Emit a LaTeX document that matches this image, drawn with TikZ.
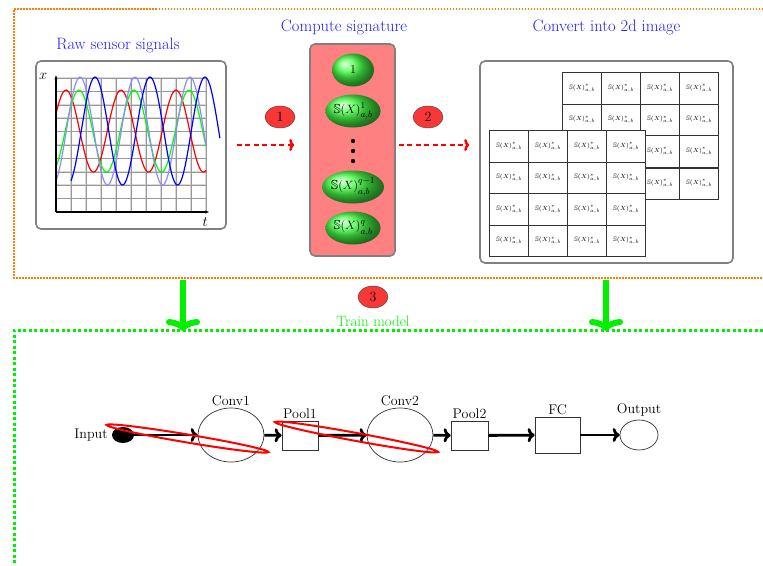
\documentclass[tikz,border=0pt]{standalone}
\usepackage{amsmath}
\usepackage{amssymb}
\usepackage{fontspec}
\usetikzlibrary{matrix,positioning,shapes.geometric,arrows.meta}
\definecolor{myorange}{RGB}{255,128,0}
\definecolor{mygreen}{RGB}{0,240,0}
\definecolor{myball}{RGB}{70,255,70}
\definecolor{mysalmon}{RGB}{255,128,128}
\definecolor{mybadge}{RGB}{250,55,55}
\definecolor{mytitle}{RGB}{30,30,255}
\newcommand{\sx}{$\mathbb{S}(X)^{*}_{a,b}$}

\begin{document}
\begin{tikzpicture}[x=1pt,y=-1pt,
  title/.style={text=mytitle,font=\fontsize{16.5}{19}\selectfont},
  panel/.style={draw=gray,line width=1.6pt,rounded corners=5pt},
  sball/.style={ellipse,minimum width=42pt,minimum height=33pt,inner sep=0pt,
    ball color=myball,font=\fontsize{13}{15}\selectfont},
  badge/.style={ellipse,draw=black!75,fill=mybadge,minimum width=30pt,
    minimum height=22pt,inner sep=0pt,font=\fontsize{14}{16}\selectfont},
  dasharrow/.style={red,line width=2.5pt,dash pattern=on 5pt off 3.5pt,
    -{Computer Modern Rightarrow[length=5pt,width=12pt]}},
  bigarrow/.style={mygreen,line width=6pt,
    -{Computer Modern Rightarrow[length=12pt,width=34pt]}},
  netarrow/.style={line width=2.8pt,
    -{Computer Modern Rightarrow[length=7pt,width=14pt]}},
  layer/.style={draw=black!80,line width=0.7pt,inner sep=0pt},
  lname/.style={font=\fontsize{14}{16}\selectfont,inner sep=2pt},
  hilite/.style={ellipse,draw=red,line width=2pt,minimum height=8pt,inner sep=0pt},
  gmat/.style={matrix of nodes,nodes in empty cells,inner sep=0pt,
    column sep=-0.8pt,row sep=-0.8pt,
    nodes={draw=black!80,line width=0.8pt,fill=white,minimum width=39pt,
      minimum height=31.5pt,inner sep=0pt,font=\fontsize{6.5}{7}\selectfont}}]

  \useasboundingbox (0,0) rectangle (763,565);

  % stage frames
  \draw[myorange,line width=1.6pt,dash pattern=on 1.5pt off 1.5pt] (763,9) -| (14,278) -- (763,278);
  \draw[mygreen,line width=3pt,dash pattern=on 3pt off 2.5pt] (763,330) -| (14,565);

  % raw signals
  \node[panel,minimum width=190pt,minimum height=168pt] (raw) at (131,145) {};
  \node[title] (rawtitle) at (118,45) {Raw sensor signals};
  \begin{scope}[shift={(56,212)},x=15pt,y=13.4pt]
    \draw[gray!30,line width=1.6pt] (0,0) grid[xstep=15pt,ystep=13.4pt] (10,10);
    \draw[gray!80,line width=0.5pt] (0,0) grid[xstep=15pt,ystep=13.4pt] (10,10);
    \draw[red,line width=1.2pt,domain=0:10,samples=120] plot (\x,{6.04+3.06*sin(98.18*\x+24.5)});
    \draw[green,line width=1.2pt,domain=0:10,samples=120] plot (\x,{6.04+3.06*sin(98.18*\x-60.5)});
    \draw[blue!45,line width=1.2pt,domain=0:10,samples=120] plot (\x,{6.04+4.03*sin(98.18*\x-67.1)});
    \draw[blue,line width=1.2pt,domain=1:10.93,samples=120] plot (\x,{6.04+4.03*sin(98.18*\x-165.3)});
    \draw[line width=1.3pt,-{Stealth[length=4pt]}] (0,0) -- (10.2,0);
    \draw[line width=1.3pt,-{Stealth[length=4pt]}] (0,0) -- (0,10.2);
    \node[font=\fontsize{14}{16}\selectfont] (tlab) at (9.95,-0.75) {$t$};
    \node[font=\fontsize{14}{16}\selectfont] (xlab) at (-0.85,10.1) {$x$};
  \end{scope}

  % signature
  \node[panel,fill=mysalmon,minimum width=85pt,minimum height=212pt] (sig) at (352.5,150) {};
  \node[title] (sigtitle) at (344,27) {Compute signature};
  \node[sball] (s1) at (353,70) {$1$};
  \node[sball] (s2) at (353,111) {$\mathbb{S}(X)^{1}_{a,b}$};
  \node[sball] (s3) at (353,187) {$\mathbb{S}(X)^{q-1}_{a,b}$};
  \node[sball] (s4) at (353,228) {$\mathbb{S}(X)^{q}_{a,b}$};
  \foreach \yy in {141,151,161}
    \fill (353,\yy) circle (2.2pt);

  % 2d image
  \node[panel,minimum width=253pt,minimum height=202pt] (img) at (606.5,162) {};
  \node[title] (imgtitle) at (606.5,27) {Convert into 2d image};
  \matrix[gmat,anchor=north west] (back) at (562,72) {
    \sx & \sx & \sx & \sx \\
    \sx & \sx & \sx & \sx \\
        &     & \sx & \sx \\
        &     & \sx & \sx \\};
  \matrix[gmat,anchor=north west] (front) at (489,130) {
    \sx & \sx & \sx & \sx \\
    \sx & \sx & \sx & \sx \\
    \sx & \sx & \sx & \sx \\
    \sx & \sx & \sx & \sx \\};

  % steps
  \draw[dasharrow] ([xshift=10pt]raw.east) -- ([xshift=-15pt]raw.east -| sig.west);
  \draw[dasharrow] ([xshift=3pt]raw.east -| sig.east) -- ([xshift=-10pt]raw.east -| img.west);
  \node[badge] (b1) at (280,117) {1};
  \node[badge] (b2) at (428,117) {2};
  \node[badge] (b3) at (373,297) {3};
  \node[text=mygreen,font=\fontsize{15}{17}\selectfont] (trainlab) at (373,321) {Train model};

  \coordinate (o1) at (183,280);
  \coordinate (g1) at (183,331);
  \coordinate (o2) at (606,280);
  \coordinate (g2) at (606,331);
  \draw[bigarrow] (o1) -- (g1);
  \draw[bigarrow] (o2) -- (g2);

  % network
  \node[ellipse,fill=black,minimum width=22pt,minimum height=16pt,inner sep=0pt] (inp) at (123,435) {};
  \node[layer,ellipse,minimum width=66pt,minimum height=54pt] (conv1) at (231,435) {};
  \node[layer,minimum width=36pt,minimum height=29pt] (pool1) at (300,435.5) {};
  \node[layer,ellipse,minimum width=66pt,minimum height=54pt] (conv2) at (400,435) {};
  \node[layer,minimum width=37pt,minimum height=29pt] (pool2) at (469.5,435.5) {};
  \node[layer,minimum width=45pt,minimum height=36pt] (fc) at (557.5,435) {};
  \node[layer,ellipse,minimum width=38pt,minimum height=30pt] (outp) at (639,435) {};

  \node[lname,left=2pt of inp] (inplab) {Input};
  \node[lname,above=0pt of conv1] (conv1lab) {Conv1};
  \node[lname,above=0pt of pool1] (pool1lab) {Pool1};
  \node[lname,above=0pt of conv2] (conv2lab) {Conv2};
  \node[lname,above=0pt of pool2] (pool2lab) {Pool2};
  \node[lname,above=0pt of fc] (fclab) {FC};
  \node[lname,above=1pt of outp] (outplab) {Output};

  \foreach \a/\b in {inp/conv1,conv1/pool1,pool1/conv2,conv2/pool2,pool2/fc,fc/outp}
    \draw[netarrow] (\a) -- (\b);

  \node[hilite,minimum width=164pt,rotate=-9.5] (hl1) at (187.5,438.5) {};
  \node[hilite,minimum width=166pt,rotate=-10.4] (hl2) at (356.5,437) {};

\end{tikzpicture}
\end{document}
